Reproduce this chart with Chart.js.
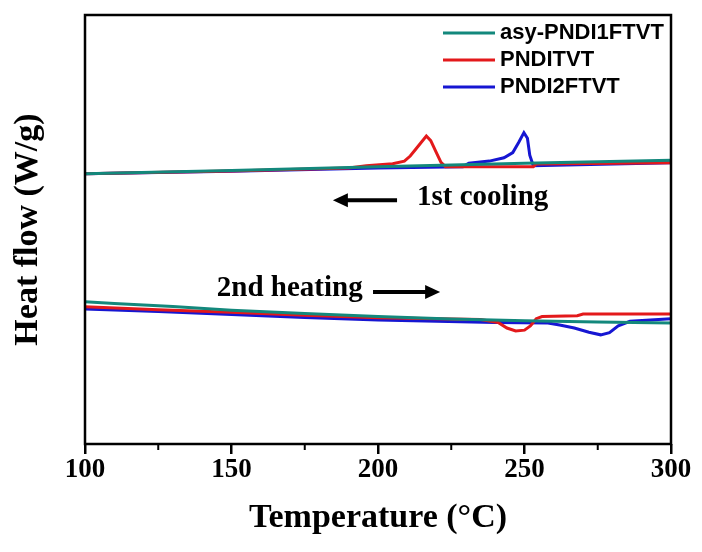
<!DOCTYPE html>
<html>
<head>
<meta charset="utf-8">
<title>DSC</title>
<script src="https://cdn.jsdelivr.net/npm/chart.js@4.4.1/dist/chart.umd.min.js"></script>
<style>
  html, body { margin: 0; padding: 0; background: #fff; }
  #wrap { width: 702px; height: 552px; }
</style>
</head>
<body>
<div id="wrap"><canvas id="dscChart" width="702" height="552"></canvas></div>
<script>
// polymer names and line colours
const names = ['asy-PNDI1FTVT', 'PNDITVT', 'PNDI2FTVT'];
const colors = ['#13887c', '#e3191b', '#1616d2'];

// 1st cooling traces, [temperature, heat flow (a.u.)]
const coolAsy = [[100, 62.6], [150, 63.4], [200, 64.3], [250, 65.1], [300, 65.8]];
const coolPndi = [[100, 62.6], [150, 63.3], [190, 64.0], [196, 64.5], [205, 65.0], [209, 65.6],
  [211, 66.8], [213, 68.5], [216.5, 71.5], [218, 70.4], [220, 67.5], [221.5, 65.3], [223, 64.3],
  [253, 64.3], [254, 64.9], [300, 65.2]];
const coolPndi2f = [[100, 62.6], [150, 63.2], [200, 64.0], [229, 64.3], [231, 65.1], [238, 65.6],
  [243, 66.4], [246, 67.6], [248, 70.0], [249.8, 72.3], [251, 71.0], [251.8, 67.0], [253, 64.5],
  [300, 65.2]];

// 2nd heating traces
const heatAsy = [[100, 32.5], [110, 32.1], [130, 31.4], [150, 30.5], [175, 29.7], [200, 29.0],
  [225, 28.4], [250, 28.0], [275, 27.7], [300, 27.5]];
const heatPndi = [[100, 31.3], [125, 30.6], [150, 30.0], [175, 29.3], [200, 28.7], [235, 28.3],
  [241, 27.6], [244, 26.3], [247, 25.6], [250, 25.8], [252, 26.8], [254, 28.5], [256, 29.0],
  [268, 29.2], [270, 29.6], [300, 29.6]];
const heatPndi2f = [[100, 30.8], [125, 30.2], [150, 29.5], [175, 28.8], [200, 28.2], [240, 27.6],
  [258, 27.5], [262, 27.0], [267, 26.3], [272, 25.3], [276, 24.7], [279, 25.2], [282, 26.8],
  [286, 27.9], [300, 28.5]];

// axis ranges and tick labels
const xMin = 100, xMax = 300, xStep = 50;
const xMinorStep = 25;
const yMin = -1, yMax = 100;

// arrows and notes, in data units
const notes = [
  { text: '1st cooling', x: 213.3, y: 57.1 },
  { text: '2nd heating', x: 145, y: 35.7 }
];
const arrows = [
  { x0: 206.5, x1: 184.6, y: 56.4 },
  { x0: 198.3, x1: 221.2, y: 34.8 }
];

const toXY = arr => arr.map(p => ({ x: p[0], y: p[1] }));

function line(data, i) {
  return {
    label: names[i],
    data: toXY(data),
    borderColor: colors[i],
    borderWidth: 3,
    pointRadius: 0,
    tension: 0,
    fill: false
  };
}

// frame, minor ticks, legend, arrows and text drawn on top
const decorations = {
  id: 'decorations',
  afterDraw(chart) {
    const ctx = chart.ctx;
    const a = chart.chartArea;
    const xs = chart.scales.x, ys = chart.scales.y;
    ctx.save();

    ctx.strokeStyle = '#000';
    ctx.lineWidth = 2.5;
    ctx.strokeRect(a.left, a.top, a.right - a.left, a.bottom - a.top);

    // minor ticks between the labelled ones
    ctx.lineWidth = 2;
    for (let v = xMin + xMinorStep; v < xMax; v += xStep) {
      const px = xs.getPixelForValue(v);
      ctx.beginPath();
      ctx.moveTo(px, a.bottom);
      ctx.lineTo(px, a.bottom + 6);
      ctx.stroke();
    }

    // legend, top right
    ctx.font = 'bold 22px "Liberation Sans", Arial, sans-serif';
    ctx.textBaseline = 'middle';
    ctx.textAlign = 'left';
    names.forEach((n, i) => {
      const yy = a.top + 18 + i * 27;
      ctx.strokeStyle = colors[i];
      ctx.lineWidth = 3;
      ctx.beginPath();
      ctx.moveTo(a.right - 228, yy);
      ctx.lineTo(a.right - 176, yy);
      ctx.stroke();
      ctx.fillStyle = '#000';
      ctx.fillText(n, a.right - 171, yy);
    });

    // arrows
    ctx.strokeStyle = '#000';
    ctx.fillStyle = '#000';
    ctx.lineWidth = 4;
    arrows.forEach(ar => {
      const p0 = xs.getPixelForValue(ar.x0);
      const p1 = xs.getPixelForValue(ar.x1);
      const py = ys.getPixelForValue(ar.y);
      const dir = Math.sign(p1 - p0);
      ctx.beginPath();
      ctx.moveTo(p0, py);
      ctx.lineTo(p1 - dir * 12, py);
      ctx.stroke();
      ctx.beginPath();
      ctx.moveTo(p1, py);
      ctx.lineTo(p1 - dir * 15, py - 7);
      ctx.lineTo(p1 - dir * 15, py + 7);
      ctx.closePath();
      ctx.fill();
    });

    // notes
    ctx.font = 'bold 29px "Liberation Serif", "Times New Roman", serif';
    notes.forEach(nt => {
      ctx.fillText(nt.text, xs.getPixelForValue(nt.x), ys.getPixelForValue(nt.y));
    });
    ctx.restore();
  }
};

const serifBold = { family: '"Liberation Serif", "Times New Roman", serif', weight: 'bold' };

new Chart(document.getElementById('dscChart'), {
  type: 'line',
  data: {
    datasets: [
      line(coolAsy, 0), line(coolPndi, 1), line(coolPndi2f, 2),
      line(heatAsy, 0), line(heatPndi, 1), line(heatPndi2f, 2)
    ]
  },
  options: {
    responsive: false,
    animation: false,
    layout: { padding: { top: 15, right: 31, left: 0, bottom: 0 } },
    plugins: { legend: { display: false }, tooltip: { enabled: false } },
    scales: {
      x: {
        type: 'linear',
        min: xMin,
        max: xMax,
        border: { display: false },
        grid: { drawOnChartArea: false, color: '#000', tickLength: 10, lineWidth: 2.5 },
        ticks: {
          stepSize: xStep,
          color: '#000',
          padding: 0,
          maxRotation: 0,
          font: Object.assign({ size: 27 }, serifBold)
        },
        title: {
          display: true,
          text: 'Temperature (°C)',
          color: '#000',
          padding: { top: 10, bottom: 13 },
          font: Object.assign({ size: 34 }, serifBold)
        },
        afterFit(scale) { scale.height = 108; }
      },
      y: {
        min: yMin,
        max: yMax,
        border: { display: false },
        grid: { display: false },
        ticks: { display: false },
        title: {
          display: true,
          text: 'Heat flow (W/g)',
          color: '#000',
          padding: { top: 8, bottom: 0 },
          font: Object.assign({ size: 34 }, serifBold)
        },
        afterFit(scale) { scale.width = 85; }
      }
    }
  },
  plugins: [decorations]
});
</script>
</body>
</html>
